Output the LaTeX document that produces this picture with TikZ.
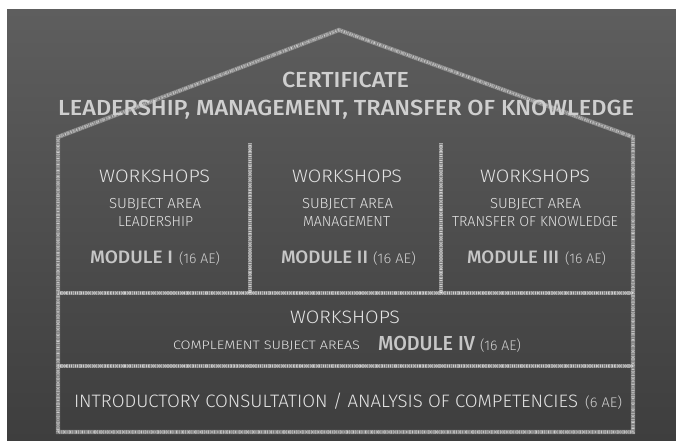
\documentclass[tikz,border=0pt]{standalone}
\usepackage{fontspec}
\usepackage{graphicx}
\setmainfont{Fira Sans}
\newfontfamily\lightf{Fira Sans Light}
\newfontfamily\medf{Fira Sans Medium}
\newcommand\fw[2]{\resizebox{#1pt}{\height}{#2}}
\definecolor{boardtop}{HTML}{5E5E5E}
\definecolor{boardbot}{HTML}{3E3E3E}
\definecolor{chalkbase}{HTML}{8A8A8A}
\definecolor{chalklight}{HTML}{C8C8C8}
\definecolor{titlegray}{HTML}{CFCFCF}
\definecolor{textwhite}{HTML}{E4E4E4}
\definecolor{modgray}{HTML}{C6C6C6}
\tikzset{
  chalkbase/.style={draw=chalkbase, line width=4.4pt, line join=miter, opacity=0.8},
  chalkdots/.style={draw=chalklight, line width=3.6pt, dash pattern=on 0.9pt off 1.1pt on 1.6pt off 0.8pt on 0.5pt off 1.4pt, opacity=0.55},
  chalkdots2/.style={draw=white, line width=1.6pt, dash pattern=on 0.5pt off 1.7pt on 1.1pt off 2.6pt, dash phase=0.7pt, opacity=0.45},
  txt/.style={inner sep=0pt, outer sep=0pt, anchor=base west},
  titletxt/.style={txt, text=titlegray, font=\medf\fontsize{21.8}{24}\selectfont},
  wstxt/.style={txt, text=textwhite, font=\lightf\fontsize{18}{20}\selectfont},
  subtxt/.style={txt, text=textwhite, font=\lightf\fontsize{14.5}{16}\selectfont},
  modtxt/.style={txt, text=modgray, font=\medf\fontsize{18}{20}\selectfont},
  aetxt/.style={txt, text=titlegray, font=\lightf\fontsize{14}{16}\selectfont},
}
\begin{document}
\begin{tikzpicture}[x=1pt, y=-1pt]
\useasboundingbox (0,0) rectangle (676,440);
\fill[white] (0,0) rectangle (676,440);
\shade[top color=boardtop, bottom color=boardbot] (7,9) rectangle (676,440);
% house outline coordinates
\coordinate (apex) at (339,30);
\coordinate (eL) at (58,137);
\coordinate (eR) at (633,137);
\coordinate (bL) at (58,432);
\coordinate (bR) at (633,432);
\coordinate (h1L) at (58,293);
\coordinate (h1R) at (633,293);
\coordinate (h2L) at (58,366);
\coordinate (h2R) at (633,366);
\coordinate (d1t) at (250,143);
\coordinate (d1b) at (250,293);
\coordinate (d2t) at (441,143);
\coordinate (d2b) at (441,293);
\foreach \s in {chalkbase, chalkdots, chalkdots2}{
  \draw[\s] (bL) -- (eL) -- (apex) -- (eR) -- (bR) -- cycle;
  \draw[\s] (h1L) -- (h1R);
  \draw[\s] (h2L) -- (h2R);
  \draw[\s] (d1t) -- (d1b);
  \draw[\s] (d2t) -- (d2b);
}
% title
\node[titletxt] (cert) at (282,87) {\fw{127}{CERTIFICATE}};
\node[titletxt] (lmt) at (58,115) {\fw{576}{LEADERSHIP, MANAGEMENT, TRANSFER OF KNOWLEDGE}};
% column 1
\node[wstxt] (ws1) at (99,182) {\fw{111}{WORKSHOPS}};
\node[subtxt] (sa1) at (109,208) {\fw{92}{SUBJECT AREA}};
\node[subtxt] (ar1) at (118,226) {\fw{75}{LEADERSHIP}};
\node[modtxt] (m1) at (90,263) {\fw{83}{MODULE I}};
\node[aetxt] (ae1) at (179,263) {\fw{41}{(16 AE)}};
% column 2
\node[wstxt] (ws2) at (292,182) {\fw{110}{WORKSHOPS}};
\node[subtxt] (sa2) at (302,208) {\fw{91}{SUBJECT AREA}};
\node[subtxt] (ar2) at (303,226) {\fw{87}{MANAGEMENT}};
\node[modtxt] (m2) at (281,263) {\fw{87}{MODULE II}};
\node[aetxt] (ae2) at (373,263) {\fw{43}{(16 AE)}};
% column 3
\node[wstxt] (ws3) at (480,182) {\fw{110}{WORKSHOPS}};
\node[subtxt] (sa3) at (490,208) {\fw{91}{SUBJECT AREA}};
\node[subtxt] (ar3) at (452,226) {\fw{166}{TRANSFER OF KNOWLEDGE}};
\node[modtxt] (m3) at (467,263) {\fw{92}{MODULE III}};
\node[aetxt] (ae3) at (565,263) {\fw{41}{(16 AE)}};
% module IV band
\node[wstxt] (ws4) at (290,323) {\fw{110}{WORKSHOPS}};
\node[txt, text=textwhite, font=\lightf\fontsize{12.3}{14}\selectfont] (csa) at (173,349) {\fw{187}{COMPLEMENT SUBJECT AREAS}};
\node[txt, text=modgray, font=\medf\fontsize{20.3}{22}\selectfont] (m4) at (378,350) {\fw{97}{MODULE IV}};
\node[aetxt] (ae4) at (480,350) {\fw{41}{(16 AE)}};
% intro band
\node[txt, text=textwhite, font=\lightf\fontsize{18}{20}\selectfont] (intro) at (74,407) {\fw{504}{INTRODUCTORY CONSULTATION / ANALYSIS OF COMPETENCIES}};
\node[aetxt] (ae5) at (585,407) {\fw{37}{(6 AE)}};
\end{tikzpicture}
\end{document}
